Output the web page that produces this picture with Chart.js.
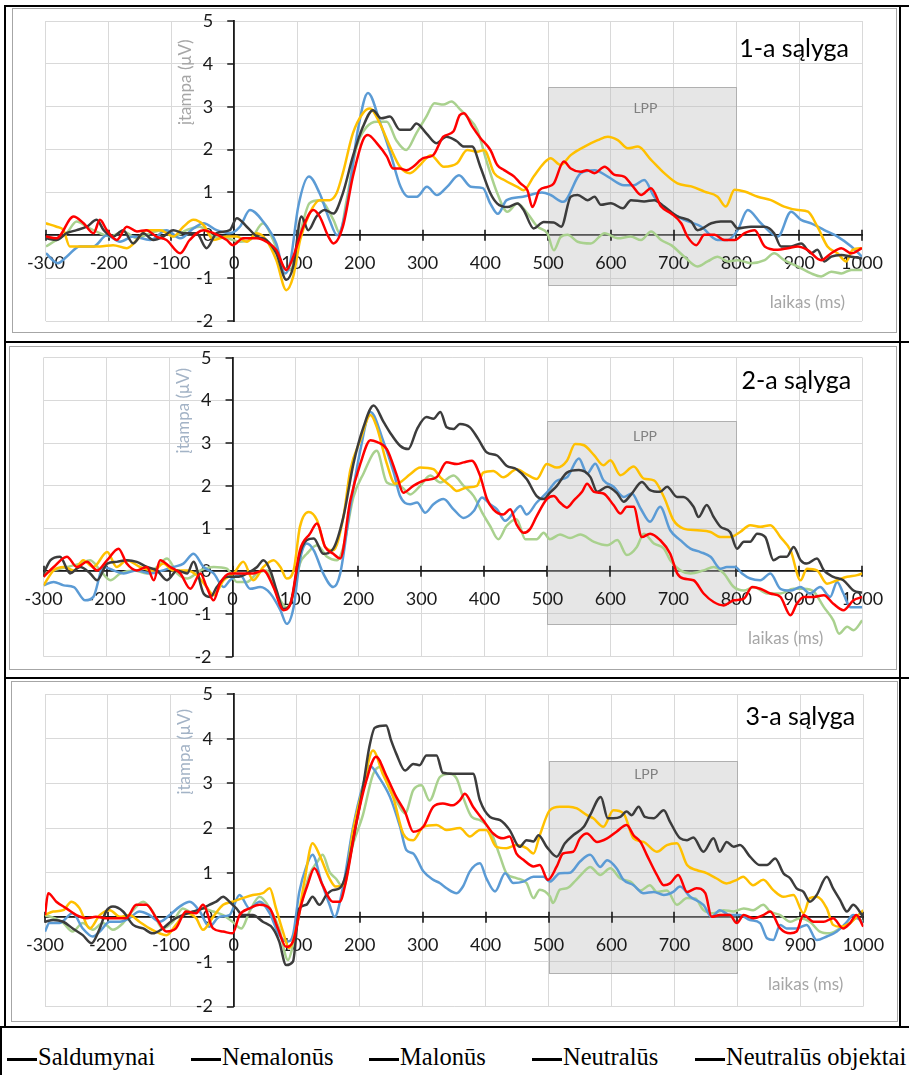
<!DOCTYPE html>
<html lang="lt">
<head>
<meta charset="utf-8">
<title>ERP – LPP</title>
<script src="https://cdn.jsdelivr.net/npm/chart.js@4.4.1/dist/chart.umd.min.js"></script>
<style>
  html, body { margin: 0; padding: 0; background: #fff; }
  #page { position: relative; width: 909px; height: 1075px; overflow: hidden; background: #fff; }
  .rule { position: absolute; background: #000; }
  .frame { position: absolute; box-sizing: border-box; border: 1px solid #a6a6a6; }
  canvas.erp { position: absolute; }
  .legend { position: absolute; left: 0; top: 1028px; width: 909px; height: 47px;
            font-family: "Liberation Serif", "Times New Roman", serif; font-size: 24.5px; color: #000; }
  .legend .item { position: absolute; top: 16px; white-space: nowrap; line-height: 26px; }
  .legend i { display: inline-block; width: 30px; height: 3px; background: #000; vertical-align: middle; margin-right: 1px; }
</style>
</head>
<body>
<div id="page">
  <div class="rule" style="left:4px;top:5px;width:905px;height:2px"></div>
  <div class="rule" style="left:4px;top:341px;width:905px;height:2px"></div>
  <div class="rule" style="left:4px;top:677px;width:905px;height:2px"></div>
  <div class="rule" style="left:0;top:1026px;width:909px;height:2px"></div>
  <div class="rule" style="left:4px;top:5px;width:2px;height:1023px"></div>
  <div class="rule" style="left:899px;top:5px;width:2px;height:1023px"></div>
  <div class="rule" style="left:0;top:1026px;width:2px;height:49px"></div>

  <div class="frame" style="left:12px;top:8px;width:885px;height:325px"></div>
  <div class="frame" style="left:9px;top:346px;width:888px;height:324px"></div>
  <div class="frame" style="left:11px;top:681px;width:887px;height:341px"></div>

  <canvas id="c1" class="erp" width="885" height="325" style="left:12px;top:8px"></canvas>
  <canvas id="c2" class="erp" width="888" height="324" style="left:9px;top:346px"></canvas>
  <canvas id="c3" class="erp" width="887" height="341" style="left:11px;top:681px"></canvas>

  <div class="legend" id="legend"></div>
</div>

<script>
// axes
const timeTicks = [-300, -200, -100, 0, 100, 200, 300, 400, 500, 600, 700, 800, 900, 1000];
const voltTicks = [-2, -1, 0, 1, 2, 3, 4, 5];

const seriesNames = ['Saldumynai', 'Nemalonūs', 'Malonūs', 'Neutralūs', 'Neutralūs objektai'];
const seriesColors = ['#ff0000', '#3c3c3c', '#ffc000', '#5b9bd5', '#a9d18e'];
const conditionTitles = ['1-a sąlyga', '2-a sąlyga', '3-a sąlyga'];

// LPP window (ms) and the shaded band's height in each condition (µV)
const lppWindow = [500, 800];
const lppTop = [3.45, 3.52, 3.51];
const lppBottom = [-1.16, -1.23, -1.26];

// grand averages, [ms, µV]
// --- 1-a sąlyga
const c1Saldumynai = [[-300,-0.03],[-283,-0.07],[-256,0.44],[-240,0.28],[-224,0.05],[-214,0.36],[-203,0.12],[-187,-0.11],[-171,0.2],[-155,0.09],[-140,0.12],[-124,-0.03],[-108,-0.11],[-86,-0.42],[-71,-0.11],[-49,0.12],[-33,0.05],[-12,-0.11],[-2,-0.23],[14,-0.07],[36,-0.07],[51,-0.15],[67,-0.34],[83,-0.81],[94,-0.5],[110,0.2],[126,0.59],[136,0.44],[150,-0.03],[158,-0.19],[173,0.2],[189,1.37],[205,2.22],[213,2.34],[227,2.15],[243,1.84],[253,1.56],[264,1.56],[274,1.52],[285,1.6],[301,1.8],[317,1.87],[333,2.3],[349,2.42],[359,2.8],[366,2.85],[379,2.54],[392,2.27],[408,1.99],[419,1.64],[430,1.52],[446,1.37],[456,1.21],[467,1.05],[475,0.66],[486,1.05],[499,1.13],[509,1.21],[525,1.72],[536,1.56],[552,1.48],[562,1.52],[574,1.45],[590,1.6],[606,1.41],[621,1.37],[635,1.14],[648,0.94],[664,1.1],[680,0.67],[696,0.51],[712,0.28],[722,-0.03],[736,-0.23],[749,0.01],[765,0.01],[781,-0.11],[797,-0.11],[813,0.05],[829,0.12],[845,-0.26],[866,-0.34],[882,-0.3],[898,-0.26],[913,-0.34],[935,-0.58],[951,-0.42],[967,-0.3],[983,-0.42],[1000,-0.3]];
const c1Nemalonus = [[-300,-0.07],[-283,-0.11],[-267,0.05],[-251,0.12],[-235,0.2],[-219,0.36],[-208,0.12],[-193,-0.03],[-177,0.12],[-161,-0.19],[-145,0.05],[-129,-0.11],[-113,-0.03],[-97,0.12],[-81,0.05],[-60,0.05],[-44,-0.3],[-28,0.05],[-7,0.12],[4,0.4],[20,0.2],[36,-0.03],[51,-0.11],[67,-0.42],[83,-1.04],[94,-0.73],[107,0.44],[118,0.12],[131,0.44],[144,0.59],[158,0.51],[173,0.98],[189,1.84],[205,2.53],[221,2.92],[234,2.73],[248,2.77],[264,2.46],[280,2.46],[290,2.61],[306,2.38],[322,2.15],[338,2.3],[354,2.2],[366,2.07],[379,2.07],[392,1.6],[408,0.98],[419,0.74],[435,0.66],[451,0.74],[461,0.59],[477,0.16],[493,0.31],[509,0.3],[521,0.2],[536,0.9],[547,0.94],[563,0.82],[574,0.9],[584,0.71],[600,0.75],[619,0.63],[632,0.82],[653,0.79],[669,0.82],[685,0.67],[706,0.44],[728,0.32],[738,0.12],[760,0.28],[775,0.32],[791,0.32],[802,0.16],[823,0.2],[845,0.2],[860,0.05],[871,-0.26],[887,-0.26],[903,-0.19],[919,-0.42],[929,-0.34],[940,-0.61],[951,-0.5],[967,-0.46],[983,-0.5],[1000,-0.54]];
const c1Malonus = [[-300,0.28],[-283,0.2],[-272,0.12],[-262,-0.26],[-240,-0.26],[-214,-0.26],[-193,-0.23],[-171,-0.3],[-155,-0.11],[-140,0.12],[-118,0.12],[-97,-0.03],[-81,0.2],[-65,0.36],[-49,0.24],[-33,-0.11],[-12,-0.03],[4,-0.03],[20,-0.15],[36,0.05],[51,-0.11],[67,-0.58],[83,-1.28],[94,-0.96],[105,-0.11],[120,0.51],[136,0.82],[152,0.82],[163,0.98],[173,1.45],[189,2.38],[205,2.85],[216,2.96],[232,2.61],[248,2.07],[264,1.6],[280,1.45],[296,1.64],[313,1.87],[334,1.6],[355,1.68],[371,1.99],[387,1.95],[398,1.99],[414,1.45],[430,1.29],[451,1.13],[461,1.05],[477,1.37],[493,1.68],[504,1.8],[520,1.64],[536,1.87],[558,2.07],[579,2.22],[595,2.3],[611,2.22],[627,2.03],[643,2.07],[664,1.76],[685,1.45],[706,1.21],[728,1.14],[749,1.02],[770,0.9],[783,0.67],[797,1.06],[813,1.02],[834,0.9],[855,0.82],[876,0.67],[898,0.59],[914,0.55],[929,0.2],[945,-0.26],[961,-0.42],[975,-0.61],[985,-0.34],[1000,-0.3]];
const c1Neutralus = [[-300,-0.42],[-281,-0.65],[-267,-0.5],[-246,-0.26],[-224,-0.26],[-203,0],[-182,-0.15],[-161,-0.03],[-134,-0.11],[-108,0.12],[-86,-0.07],[-65,0.16],[-49,0.28],[-28,0.12],[-7,0.05],[9,0.2],[25,0.59],[46,0.32],[67,-0.19],[81,-0.89],[89,-0.65],[102,0.67],[119,1.37],[136,0.98],[152,0.35],[164,0],[179,0.67],[197,2.46],[213,3.32],[233,2.6],[249,1.9],[265,1.13],[277,0.9],[291,0.9],[307,1.13],[323,0.94],[339,1.13],[358,1.4],[377,1.13],[396,1.1],[408,0.74],[420,0.5],[434,0.82],[460,0.9],[490,1.0],[504,0.94],[524,0.78],[552,1.45],[574,1.52],[595,1.37],[621,1.17],[637,1.17],[653,1.29],[669,0.9],[690,0.59],[717,0.36],[744,0.2],[770,-0.11],[786,-0.11],[802,0.12],[818,0.59],[839,0.28],[866,-0.03],[887,0.55],[903,0.36],[919,0.28],[940,0.12],[961,-0.03],[983,-0.26],[1000,-0.5]];
const c1Objektai = [[-300,-0.26],[-283,-0.11],[-267,0.05],[-251,0.32],[-235,0.2],[-214,0.05],[-198,-0.03],[-177,0.09],[-155,-0.07],[-134,0.05],[-113,0.12],[-97,-0.03],[-76,0.12],[-55,0.2],[-33,-0.03],[-12,-0.07],[9,-0.15],[25,-0.11],[46,0.28],[62,-0.11],[78,-0.73],[89,-0.81],[105,0.05],[120,0.75],[136,0.82],[158,0.36],[168,0.05],[179,0.82],[195,2.07],[211,2.53],[227,2.65],[243,2.65],[258,2.22],[274,1.99],[290,2.38],[306,2.77],[319,3.08],[333,3.05],[346,3.12],[359,2.95],[371,2.77],[387,2.46],[403,1.68],[419,0.98],[435,0.55],[451,0.74],[467,0.51],[483,0.2],[499,0.04],[509,-0.35],[520,-0.04],[531,0.01],[547,-0.15],[568,-0.19],[590,0.05],[611,-0.07],[632,-0.03],[648,-0.11],[664,0.09],[680,-0.11],[696,-0.23],[717,-0.5],[738,-0.73],[754,-0.61],[770,-0.5],[786,-0.61],[802,-0.58],[823,-0.65],[845,-0.58],[860,-0.42],[876,-0.58],[898,-0.73],[919,-0.89],[935,-0.96],[951,-0.85],[967,-0.89],[983,-0.81],[1000,-0.81]];

// --- 2-a sąlyga
const c2Saldumynai = [[-300,-0.13],[-284,0.1],[-263,0.34],[-247,0.1],[-231,0.22],[-215,0.02],[-199,0.26],[-181,0.53],[-168,0.18],[-152,0.02],[-136,0.1],[-125,-0.21],[-115,0.26],[-99,0.1],[-83,-0.05],[-67,-0.41],[-51,-0.05],[-41,-0.37],[-30,-0.68],[-20,-0.29],[-4,-0.05],[17,-0.05],[33,-0.05],[49,0.02],[65,-0.37],[81,-0.91],[92,-0.76],[107,0.49],[123,0.88],[134,1.12],[147,0.57],[160,0.41],[171,0.3],[187,1.66],[203,2.52],[219,3.07],[229,3.03],[245,2.86],[261,2.24],[271,1.84],[287,2.0],[303,2.12],[324,2.2],[340,2.55],[356,2.51],[367,2.55],[380,2.59],[393,2.24],[404,1.69],[414,1.45],[430,1.33],[441,1.45],[451,1.1],[462,0.9],[472,0.98],[483,1.29],[499,1.69],[510,1.76],[520,1.61],[531,1.49],[542,1.66],[555,1.86],[563,2.05],[574,1.86],[589,1.82],[605,1.55],[616,1.35],[626,1.51],[637,1.51],[650,0.8],[663,0.88],[679,0.73],[695,0.41],[706,-0.05],[716,-0.17],[732,-0.21],[748,-0.52],[764,-0.72],[780,-0.8],[796,-0.68],[812,-0.64],[825,-0.37],[838,-0.41],[854,-0.52],[870,-0.6],[886,-1.03],[896,-0.76],[907,-0.6],[923,-0.6],[939,-0.56],[954,-0.76],[970,-0.91],[986,-0.68],[1000,-0.6]];
const c2Nemalonus = [[-300,-0.05],[-289,0.26],[-274,0.34],[-258,-0.05],[-242,0.1],[-226,-0.05],[-215,-0.21],[-199,0.18],[-184,0.22],[-168,0.26],[-152,0.22],[-136,0.1],[-120,0.02],[-104,-0.21],[-88,0.02],[-72,-0.05],[-62,0.22],[-46,-0.52],[-35,-0.6],[-25,-0.37],[-9,-0.13],[7,-0.13],[23,-0.05],[39,0.1],[49,0.26],[60,0.02],[70,-0.45],[81,-0.88],[92,-0.76],[107,0.41],[118,0.73],[129,0.77],[144,0.41],[160,0.53],[176,1.27],[192,2.52],[208,3.38],[224,3.88],[240,3.49],[250,3.25],[266,2.94],[279,2.86],[293,3.33],[308,3.61],[319,3.57],[330,3.73],[340,3.37],[351,3.33],[361,3.45],[377,3.37],[390,3.1],[404,2.78],[420,2.71],[435,2.47],[451,2.39],[467,2.16],[483,1.76],[494,1.69],[504,1.84],[515,2.0],[531,2.31],[550,2.37],[568,2.21],[579,1.86],[595,1.98],[611,1.82],[621,1.63],[634,1.82],[650,2.09],[663,1.9],[679,1.86],[690,1.98],[706,1.74],[716,1.74],[732,1.51],[740,1.27],[753,1.55],[764,1.27],[775,1.04],[790,0.92],[801,0.53],[812,0.69],[822,0.69],[833,0.88],[846,0.8],[859,0.26],[870,0.34],[880,0.34],[891,0.57],[902,0.26],[912,0.18],[928,0.3],[939,0.02],[954,-0.13],[970,-0.21],[986,-0.45],[1000,-0.5]];
const c2Malonus = [[-300,-0.33],[-284,0.02],[-268,0.1],[-252,0.02],[-237,0.26],[-221,0.1],[-199,0.45],[-184,0.1],[-168,0.26],[-147,0.1],[-125,0.02],[-110,0.18],[-94,0.02],[-72,0.02],[-57,-0.09],[-41,-0.37],[-30,-0.56],[-14,-0.21],[2,-0.05],[17,0.22],[33,-0.21],[49,0.1],[65,0.26],[76,0.1],[86,-0.17],[97,0.02],[107,1.04],[121,1.39],[134,1.2],[147,0.57],[160,0.49],[176,1.27],[187,2.37],[203,3.07],[219,3.66],[229,3.38],[245,2.52],[258,2.05],[266,2.08],[282,2.27],[298,2.43],[319,2.39],[330,2.2],[346,2.0],[356,1.88],[372,1.96],[388,2.0],[398,2.31],[414,2.35],[430,2.2],[451,2.39],[467,2.27],[483,2.16],[499,2.51],[515,2.43],[531,2.59],[544,2.98],[558,2.95],[574,2.72],[589,2.48],[600,2.6],[616,2.25],[637,2.45],[653,2.17],[669,2.13],[685,1.74],[700,1.2],[716,1.0],[738,0.96],[759,0.92],[775,0.8],[790,0.8],[806,0.92],[822,1.08],[838,1.04],[854,1.08],[870,0.8],[886,0.49],[902,-0.21],[912,0.06],[928,0.02],[944,-0.29],[960,-0.21],[976,-0.13],[992,-0.09],[1000,-0.05]];
const c2Neutralus = [[-300,-0.33],[-284,-0.25],[-268,-0.33],[-252,-0.37],[-234,-0.68],[-221,-0.6],[-205,0.1],[-189,0.02],[-173,-0.05],[-152,0.02],[-131,-0.05],[-110,0.02],[-94,0.1],[-78,0.18],[-62,0.41],[-46,0.1],[-30,-0.05],[-14,-0.37],[-4,-0.21],[12,-0.09],[28,-0.41],[44,-0.37],[60,-0.52],[76,-0.91],[86,-1.23],[97,-0.84],[107,0.26],[118,0.65],[129,0.49],[144,-0.05],[160,-0.37],[171,-0.05],[187,1.51],[203,2.84],[219,3.73],[240,3.02],[256,2.31],[266,1.76],[282,1.57],[293,1.61],[306,1.37],[319,1.57],[335,1.69],[351,1.45],[367,1.25],[383,1.41],[396,1.73],[409,1.57],[420,1.45],[433,1.18],[446,1.37],[457,1.53],[467,1.33],[483,1.61],[499,1.84],[515,2.12],[531,2.2],[550,2.64],[563,2.29],[576,2.52],[589,2.13],[605,1.98],[621,1.74],[634,1.82],[648,1.47],[663,1.16],[679,1.51],[695,0.96],[711,0.73],[727,0.53],[743,0.45],[759,0.34],[775,0.06],[785,0.1],[798,0.1],[809,-0.05],[822,-0.17],[838,-0.21],[854,-0.05],[870,-0.41],[886,-0.45],[902,-0.37],[917,-0.52],[933,-0.37],[949,-0.6],[960,-0.25],[970,-0.52],[981,-0.84],[1000,-0.84]];
const c2Objektai = [[-300,-0.05],[-284,0.02],[-263,0.1],[-242,0.18],[-226,0.26],[-210,0.02],[-194,-0.21],[-178,-0.05],[-157,0.02],[-136,-0.05],[-120,0.1],[-104,0.3],[-88,-0.05],[-72,-0.17],[-51,0.02],[-30,0.1],[-9,0.06],[7,-0.25],[23,-0.25],[39,-0.05],[54,0.02],[70,-0.52],[86,-0.84],[97,-0.52],[107,0.18],[118,0.41],[134,0.61],[150,0.34],[166,0.26],[176,0.57],[192,1.74],[208,2.29],[229,2.82],[245,2.08],[266,2.0],[282,1.8],[298,2.0],[314,2.24],[330,2.08],[351,2.24],[367,2.0],[383,1.76],[398,1.33],[409,1.06],[422,0.75],[435,1.06],[451,1.22],[465,0.75],[483,0.75],[494,0.9],[504,0.75],[520,0.86],[536,0.78],[552,0.86],[574,0.69],[595,0.61],[611,0.73],[626,0.38],[642,0.57],[653,0.88],[669,0.65],[685,0.53],[695,0.26],[711,0.02],[727,-0.05],[748,0.02],[764,0.1],[780,-0.05],[796,-0.37],[812,-0.45],[828,-0.37],[849,-0.52],[870,-0.52],[891,-0.41],[907,-0.41],[923,-0.48],[939,-0.84],[954,-1.15],[963,-1.46],[976,-1.3],[986,-1.38],[1000,-1.15]];

// --- 3-a sąlyga
const c3Saldumynai = [[-300,0.05],[-295,0.54],[-282,0.35],[-266,0.2],[-250,0.05],[-234,-0.02],[-219,0.01],[-203,-0.02],[-187,-0.02],[-171,-0.02],[-155,0.28],[-139,0.28],[-123,-0.02],[-107,-0.32],[-92,-0.25],[-76,0.13],[-60,0.09],[-49,0.28],[-33,-0.25],[-17,-0.32],[-2,-0.36],[9,0.05],[25,0.2],[41,0.28],[57,0.2],[70,-0.25],[83,-0.66],[94,-0.54],[107,0.28],[117,0.72],[128,1.1],[141,0.72],[157,0.35],[168,0.35],[178,0.8],[194,2.07],[210,3.04],[226,3.6],[242,3.18],[258,2.7],[272,2.36],[285,1.92],[301,2.03],[317,2.48],[332,2.55],[348,2.51],[359,2.62],[367,2.77],[380,2.48],[396,2.18],[412,1.88],[428,1.77],[438,1.81],[449,1.43],[460,1.29],[476,1.14],[486,1.17],[499,0.84],[513,1.14],[523,1.43],[539,1.47],[550,1.77],[561,1.88],[577,1.69],[593,1.77],[608,1.92],[624,2.07],[635,1.84],[646,1.69],[656,1.4],[672,0.95],[683,0.72],[693,0.76],[706,0.95],[720,0.57],[735,0.65],[749,0.54],[759,0.01],[772,0.05],[788,0.05],[799,-0.13],[810,0.05],[825,-0.02],[841,0.05],[852,0.13],[868,-0.25],[884,-0.36],[894,-0.32],[905,0.05],[921,-0.1],[937,-0.1],[952,-0.02],[968,-0.25],[979,-0.13],[989,0.05],[1000,-0.21]];
const c3Nemalonus = [[-300,-0.1],[-287,-0.06],[-271,-0.1],[-256,-0.25],[-240,-0.4],[-226,-0.58],[-213,-0.25],[-203,0.13],[-192,0.24],[-176,0.13],[-160,-0.17],[-144,-0.25],[-129,-0.36],[-113,-0.25],[-97,-0.06],[-81,0.05],[-65,0.13],[-49,0.2],[-39,0.28],[-28,0.35],[-17,0.46],[-7,0.35],[4,0.2],[14,0.05],[30,0.05],[46,-0.1],[62,-0.25],[72,-0.54],[83,-1.07],[94,-0.99],[104,0.2],[115,0.28],[125,0.46],[136,0.28],[147,0.5],[157,0.61],[168,0.65],[178,0.95],[194,2.07],[205,2.9],[215,3.8],[224,4.25],[242,4.3],[250,3.96],[258,3.67],[272,3.29],[285,3.44],[295,3.41],[306,3.63],[322,3.63],[332,3.24],[348,3.22],[364,3.22],[380,3.22],[391,2.62],[407,2.25],[423,2.18],[438,1.96],[454,1.58],[465,1.73],[476,1.7],[484,1.84],[497,1.58],[513,1.36],[526,1.66],[540,1.85],[556,2.03],[566,2.29],[583,2.7],[594,2.22],[603,2.22],[614,2.25],[624,2.37],[632,2.29],[643,2.48],[653,2.25],[667,2.22],[683,2.4],[693,2.14],[709,1.77],[720,1.73],[730,1.79],[746,1.47],[762,1.77],[772,1.47],[783,1.69],[794,1.58],[804,1.62],[820,1.36],[836,1.17],[847,1.17],[860,1.32],[873,0.99],[884,0.87],[894,0.65],[905,0.57],[915,0.35],[926,0.5],[942,0.91],[952,0.65],[963,0.39],[974,0.13],[984,0.28],[1000,0.0]];
const c3Malonus = [[-300,0.05],[-287,0.13],[-271,0.16],[-258,0.35],[-245,0.2],[-229,-0.25],[-213,0.05],[-197,0.16],[-181,0.01],[-166,0.05],[-150,-0.1],[-134,-0.25],[-118,-0.36],[-107,-0.4],[-92,-0.17],[-76,0.09],[-60,-0.02],[-49,-0.28],[-33,0.01],[-17,0.28],[-2,0.35],[14,0.43],[30,0.5],[46,0.54],[57,0.65],[67,0.2],[78,-0.32],[88,-0.69],[99,-0.25],[112,0.8],[125,1.66],[136,1.4],[152,0.87],[162,0.69],[176,0.72],[189,1.92],[205,2.89],[221,3.74],[237,3.2],[253,2.7],[269,1.88],[285,1.73],[301,2.03],[322,2.07],[338,1.96],[359,2.0],[375,1.81],[391,1.96],[401,1.96],[417,1.58],[433,1.55],[449,1.62],[465,1.55],[476,1.43],[486,1.84],[502,2.4],[518,2.48],[532,2.48],[545,2.44],[561,2.29],[571,2.22],[587,2.03],[603,2.4],[619,2.33],[635,1.77],[651,1.69],[672,1.47],[688,1.62],[704,1.66],[720,1.17],[735,1.06],[751,0.99],[767,0.87],[783,0.76],[799,0.84],[809,0.91],[825,0.72],[841,0.84],[857,0.61],[873,0.46],[889,0.5],[905,0.09],[915,0.43],[926,0.46],[942,0.2],[952,-0.17],[963,-0.21],[979,-0.13],[992,0.05],[1000,0.16]];
const c3Neutralus = [[-300,-0.32],[-293,-0.13],[-277,-0.13],[-256,0.09],[-240,-0.25],[-224,-0.43],[-213,-0.32],[-197,-0.1],[-181,-0.1],[-166,-0.02],[-150,0.13],[-134,0.05],[-118,-0.1],[-102,0.05],[-86,0.24],[-70,0.35],[-54,0.13],[-39,-0.21],[-23,0.01],[-7,0.05],[9,0.5],[25,0.2],[41,0.35],[57,0.09],[72,-0.4],[86,-0.54],[94,-0.4],[104,0.57],[115,1.13],[125,1.4],[139,0.8],[152,0.28],[160,0.01],[173,0.65],[189,1.99],[205,2.96],[216,3.39],[232,3.11],[248,2.7],[264,2.03],[274,1.51],[285,1.43],[301,1.03],[317,0.84],[327,0.77],[338,0.65],[354,0.54],[364,0.69],[375,1.03],[391,1.21],[401,0.88],[415,0.58],[431,0.99],[444,0.77],[460,0.8],[476,0.91],[492,0.91],[502,0.8],[518,0.99],[534,1.0],[550,1.25],[566,1.4],[582,1.13],[593,1.28],[608,1.1],[619,0.84],[635,0.72],[651,0.54],[667,0.57],[683,0.5],[698,0.57],[709,0.69],[725,0.46],[746,0.28],[759,0.01],[772,0.16],[788,0.05],[804,0.05],[820,-0.06],[836,-0.13],[847,-0.47],[857,-0.51],[868,-0.17],[878,-0.25],[894,-0.25],[910,-0.17],[926,-0.51],[942,-0.43],[958,-0.32],[974,-0.1],[984,0.05],[1000,-0.13]];
const c3Objektai = [[-300,0.05],[-285,-0.02],[-271,-0.13],[-256,-0.32],[-240,-0.13],[-224,-0.28],[-208,-0.13],[-192,-0.28],[-176,-0.13],[-160,0.16],[-144,0.35],[-129,0.13],[-113,-0.25],[-97,-0.1],[-81,0.2],[-65,0.09],[-49,0.2],[-33,0.13],[-17,0.05],[-2,-0.1],[12,-0.25],[25,0.13],[41,0.46],[57,0.2],[72,-0.25],[86,-0.96],[94,-0.62],[107,0.28],[120,0.95],[133,1.25],[141,1.4],[152,1.02],[162,0.87],[173,0.69],[189,1.62],[205,2.29],[221,3.2],[232,3.37],[248,2.85],[258,2.62],[272,2.33],[285,2.85],[298,2.96],[311,2.62],[327,3.14],[343,3.22],[354,3.11],[364,2.7],[378,2.25],[391,2.18],[407,1.96],[423,1.36],[433,0.99],[449,0.88],[465,0.77],[476,0.43],[486,0.62],[502,0.47],[507,0.32],[518,0.62],[529,0.65],[544,0.84],[556,1.02],[566,1.13],[582,0.95],[598,1.1],[614,0.87],[630,0.8],[646,0.6],[661,0.72],[672,0.57],[688,0.6],[704,0.28],[720,0.43],[733,0.42],[746,0.16],[762,0.09],[778,0.16],[794,0.13],[810,0.2],[825,0.16],[841,0.28],[852,0.13],[868,0.05],[884,-0.1],[899,-0.02],[915,-0.1],[931,-0.32],[947,-0.36],[963,-0.25],[979,-0.13],[989,-0.02],[1000,-0.1]];

const conditions = [
  [c1Saldumynai, c1Nemalonus, c1Malonus, c1Neutralus, c1Objektai],
  [c2Saldumynai, c2Nemalonus, c2Malonus, c2Neutralus, c2Objektai],
  [c3Saldumynai, c3Nemalonus, c3Malonus, c3Neutralus, c3Objektai]
];

// where each panel's plot sits inside its canvas, and where the annotations go
const panelLayout = [
  { pad: { left: 33.9, right: 35, top: 13, bottom: 12 },
    titleRight: 13, titleBase: 36, yTitleAt: 3.57, timeRight: 17, timeUp: 18, lppLabelAt: 2.95, yTitleColor: '#a6a6a6' },
  { pad: { left: 34.6, right: 34.7, top: 11.7, bottom: 13.3 },
    titleRight: 11, titleBase: 31, yTitleAt: 3.76, timeRight: 39, timeUp: 18, lppLabelAt: 3.16, yTitleColor: '#a3b3c6' },
  { pad: { left: 34, right: 34.7, top: 13.3, bottom: 15.5 },
    titleRight: 8, titleBase: 31, yTitleAt: 3.71, timeRight: 20, timeUp: 22, lppLabelAt: 3.21, yTitleColor: '#a3b3c6' }
];

const FONT = 'Lato, "Open Sans", sans-serif';

// LPP band, crossing tick marks, tick labels and titles
const decor = {
  id: 'decor',
  beforeDatasetsDraw(chart, args, o) {
    const { ctx, chartArea: area, scales: { x, y } } = chart;
    const x0 = x.getPixelForValue(0);
    const y0 = y.getPixelForValue(0);
    ctx.save();

    const bx1 = Math.round(x.getPixelForValue(lppWindow[0])) + 0.5;
    const bx2 = Math.round(x.getPixelForValue(lppWindow[1])) + 0.5;
    const by1 = Math.round(y.getPixelForValue(o.lppTop)) + 0.5;
    const by2 = Math.round(y.getPixelForValue(o.lppBottom)) + 0.5;
    ctx.fillStyle = 'rgba(190,190,190,0.38)';
    ctx.fillRect(bx1, by1, bx2 - bx1, by2 - by1);
    ctx.strokeStyle = '#b0b0b0';
    ctx.lineWidth = 1;
    ctx.strokeRect(bx1, by1, bx2 - bx1, by2 - by1);
    ctx.fillStyle = '#808080';
    ctx.font = '14px ' + FONT;
    ctx.textAlign = 'center';
    ctx.textBaseline = 'middle';
    ctx.fillText('LPP', x.getPixelForValue(655), y.getPixelForValue(o.lppLabelAt));

    ctx.strokeStyle = '#1a1a1a';
    ctx.lineWidth = 1.6;
    ctx.beginPath();
    x.ticks.forEach(t => {
      const px = Math.round(x.getPixelForValue(t.value));
      ctx.moveTo(px, y0 - 5.5);
      ctx.lineTo(px, y0 + 5.5);
    });
    y.ticks.forEach(t => {
      const py = Math.round(y.getPixelForValue(t.value));
      ctx.moveTo(x0 - 7, py);
      ctx.lineTo(x0, py);
    });
    ctx.stroke();

    ctx.fillStyle = '#1a1a1a';
    ctx.font = '18px ' + FONT;
    ctx.textAlign = 'center';
    ctx.textBaseline = 'middle';
    x.ticks.forEach(t => ctx.fillText(String(t.value), x.getPixelForValue(t.value), y0 + 28));
    ctx.textAlign = 'right';
    y.ticks.forEach(t => ctx.fillText(String(t.value), x0 - 21, y.getPixelForValue(t.value)));

    ctx.font = '25px ' + FONT;
    ctx.textBaseline = 'alphabetic';
    ctx.fillStyle = '#000';
    ctx.fillText(o.title, area.right - o.titleRight, area.top + o.titleBase);

    ctx.font = '17px ' + FONT;
    ctx.fillStyle = '#a6a6a6';
    ctx.textBaseline = 'middle';
    ctx.fillText('laikas (ms)', area.right - o.timeRight, area.bottom - o.timeUp);

    ctx.translate(x0 - 49, y.getPixelForValue(o.yTitleAt));
    ctx.rotate(-Math.PI / 2);
    ctx.textAlign = 'center';
    ctx.fillStyle = o.yTitleColor;
    ctx.fillText('įtampa (μV)', 0, 0);
    ctx.restore();
  }
};

function makePanel(i) {
  const L = panelLayout[i];
  const datasets = conditions[i].map((pts, k) => ({
    label: seriesNames[k],
    data: pts.map(p => ({ x: p[0], y: p[1] })),
    borderColor: seriesColors[k],
    borderWidth: 2.5,
    pointRadius: 0,
    cubicInterpolationMode: 'monotone',
    fill: false
  }));

  const grid = { color: '#d9d9d9', lineWidth: 1, drawTicks: false };
  const border = { color: '#1a1a1a', width: 1.8 };

  new Chart(document.getElementById('c' + (i + 1)), {
    type: 'line',
    data: { datasets },
    options: {
      responsive: false,
      animation: false,
      events: [],
      layout: { padding: L.pad },
      plugins: {
        legend: { display: false },
        tooltip: { enabled: false },
        decor: {
          title: conditionTitles[i],
          titleRight: L.titleRight, titleBase: L.titleBase,
          timeRight: L.timeRight, timeUp: L.timeUp,
          yTitleAt: L.yTitleAt, yTitleColor: L.yTitleColor,
          lppTop: lppTop[i], lppBottom: lppBottom[i], lppLabelAt: L.lppLabelAt
        }
      },
      scales: {
        x: {
          type: 'linear', min: timeTicks[0], max: timeTicks[timeTicks.length - 1],
          position: { y: 0 },
          afterBuildTicks: s => { s.ticks = timeTicks.map(v => ({ value: v })); },
          ticks: { display: false },
          grid, border
        },
        y: {
          type: 'linear', min: voltTicks[0], max: voltTicks[voltTicks.length - 1],
          position: { x: 0 },
          afterBuildTicks: s => { s.ticks = voltTicks.map(v => ({ value: v })); },
          ticks: { display: false },
          grid, border
        }
      }
    },
    plugins: [decor]
  });
}

[0, 1, 2].forEach(makePanel);

// shared legend row (plain black keys)
const legendLeft = [7, 191, 369, 532, 695];
const legend = document.getElementById('legend');
seriesNames.forEach((name, k) => {
  const item = document.createElement('span');
  item.className = 'item';
  item.style.left = legendLeft[k] + 'px';
  item.innerHTML = '<i></i>' + name;
  legend.appendChild(item);
});
</script>
</body>
</html>
